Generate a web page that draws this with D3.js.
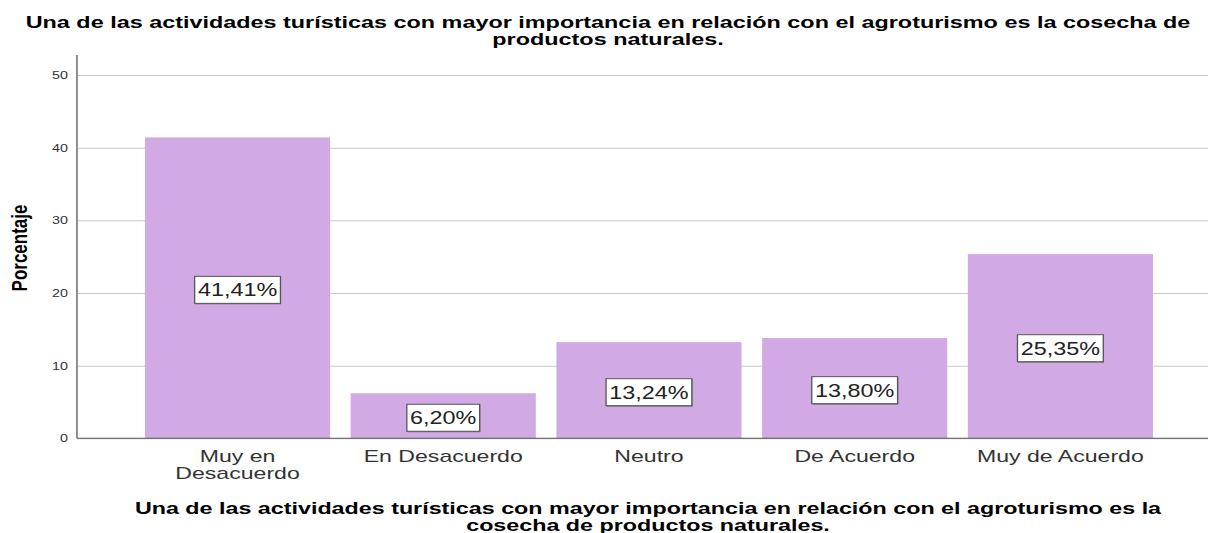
<!DOCTYPE html>
<html>
<head>
<meta charset="utf-8">
<script src="https://cdn.jsdelivr.net/npm/d3@7"></script>
<style>
  body { margin: 0; background: #fff; }
  text { font-family: "Liberation Sans", Arial, sans-serif; }
</style>
</head>
<body>
<div id="chart"></div>
<script>
// data
const categories = ["Muy en Desacuerdo", "En Desacuerdo", "Neutro", "De Acuerdo", "Muy de Acuerdo"];
const tickLines = [["Muy en", "Desacuerdo"], ["En Desacuerdo"], ["Neutro"], ["De Acuerdo"], ["Muy de Acuerdo"]];
const values = [41.41, 6.20, 13.24, 13.80, 25.35];
const yTicks = [0, 10, 20, 30, 40, 50];
const titleLines = ["Una de las actividades turísticas con mayor importancia en relación con el agroturismo es la cosecha de",
                    "productos naturales."];
const xTitleLines = ["Una de las actividades turísticas con mayor importancia en relación con el agroturismo es la",
                     "cosecha de productos naturales."];
const yTitle = "Porcentaje";

// the original is stretched horizontally, so draw narrow and scale x
const W = 1208, H = 533, sx = 1.3;
const innerW = W / sx;
const axisX = 59.2;

// widen text a bit more than the global stretch
function widen(sel, k) {
    sel.each(function () {
        const w = this.getComputedTextLength();
        d3.select(this)
            .attr("textLength", w * k)
            .attr("lengthAdjust", "spacingAndGlyphs");
    });
}

const svg = d3.select("#chart")
    .append("svg")
    .attr("width", W)
    .attr("height", H);

const g = svg.append("g")
    .attr("transform", `scale(${sx},1)`);

const x = d3.scaleBand()
    .domain(categories)
    .range([103.6, 894.8])
    .paddingInner(0.1)
    .paddingOuter(0.05);

const y = d3.scaleLinear()
    .domain([0, 50])
    .range([438.3, 75]);

// gridlines + y tick labels
const yAxis = g.append("g")
    .attr("transform", `translate(${axisX},0)`)
    .call(d3.axisLeft(y)
        .tickValues(yTicks)
        .tickSize(-(innerW - axisX))
        .tickPadding(7));
yAxis.select(".domain").remove();
yAxis.selectAll(".tick line")
    .attr("stroke", "#c8c8c8")
    .attr("stroke-width", 1);
yAxis.selectAll(".tick text")
    .attr("fill", "#333")
    .style("font-size", "11px")
    .style("font-family", "'Liberation Sans', Arial, sans-serif");

// bars
g.append("g")
    .selectAll("rect")
    .data(values)
    .join("rect")
    .attr("x", (d, i) => x(categories[i]))
    .attr("y", d => y(d))
    .attr("width", x.bandwidth())
    .attr("height", d => y(0) - y(d))
    .attr("fill", "#d1aae5");

// axis lines
g.append("line")
    .attr("x1", axisX).attr("x2", innerW)
    .attr("y1", y(0)).attr("y2", y(0))
    .attr("stroke", "#555")
    .attr("stroke-width", 1);
g.append("line")
    .attr("x1", axisX).attr("x2", axisX)
    .attr("y1", y(50) - 20).attr("y2", y(0))
    .attr("stroke", "#8c8c8c")
    .attr("stroke-width", 1.5);

// value labels in boxes
const fmt = d => d3.format(".2f")(d).replace(".", ",") + "%";
const labels = g.append("g")
    .selectAll("g")
    .data(values)
    .join("g")
    .attr("transform", (d, i) => `translate(${x(categories[i]) + x.bandwidth() / 2},${y(d / 2) + 2})`);

labels.append("text")
    .attr("text-anchor", "middle")
    .attr("y", 6.5)
    .attr("fill", "#222")
    .style("font-size", "18px")
    .text(fmt)
    .each(function () {
        const tw = this.getComputedTextLength();
        const p = d3.select(this.parentNode);
        p.insert("rect", "text")
            .attr("x", -tw / 2 - 2).attr("y", -12.5)
            .attr("width", tw + 5).attr("height", 27)
            .attr("fill", "#777");
        p.insert("rect", "text")
            .attr("x", -tw / 2 - 2.5).attr("y", -13.5)
            .attr("width", tw + 5).attr("height", 27)
            .attr("fill", "#fff")
            .attr("stroke", "#555")
            .attr("stroke-width", 1);
    });

// x tick labels, one text per line
const xt = g.append("g")
    .selectAll("g")
    .data(tickLines)
    .join("g")
    .attr("transform", (d, i) => `translate(${x(categories[i]) + x.bandwidth() / 2},462)`);
xt.selectAll("text")
    .data(d => d)
    .join("text")
    .attr("text-anchor", "middle")
    .attr("fill", "#333")
    .style("font-size", "16px")
    .attr("y", (d, i) => i * 17)
    .text(d => d)
    .call(widen, 1.11);

// top title
g.append("g")
    .selectAll("text")
    .data(titleLines)
    .join("text")
    .attr("text-anchor", "middle")
    .attr("font-weight", "bold")
    .attr("fill", "#000")
    .style("font-size", "16px")
    .attr("x", 608 / sx)
    .attr("y", (d, i) => 28 + i * 17)
    .text(d => d)
    .call(widen, 1.125);

// x axis title
g.append("g")
    .selectAll("text")
    .data(xTitleLines)
    .join("text")
    .attr("text-anchor", "middle")
    .attr("font-weight", "bold")
    .attr("fill", "#000")
    .style("font-size", "16px")
    .attr("x", 648 / sx)
    .attr("y", (d, i) => 514 + i * 17)
    .text(d => d)
    .call(widen, 1.12);

// y axis title
g.append("text")
    .attr("text-anchor", "middle")
    .attr("font-weight", "bold")
    .attr("fill", "#000")
    .style("font-size", "17px")
    .attr("transform", `translate(${27 / sx},248) rotate(-90)`)
    .text(yTitle);
</script>
</body>
</html>
